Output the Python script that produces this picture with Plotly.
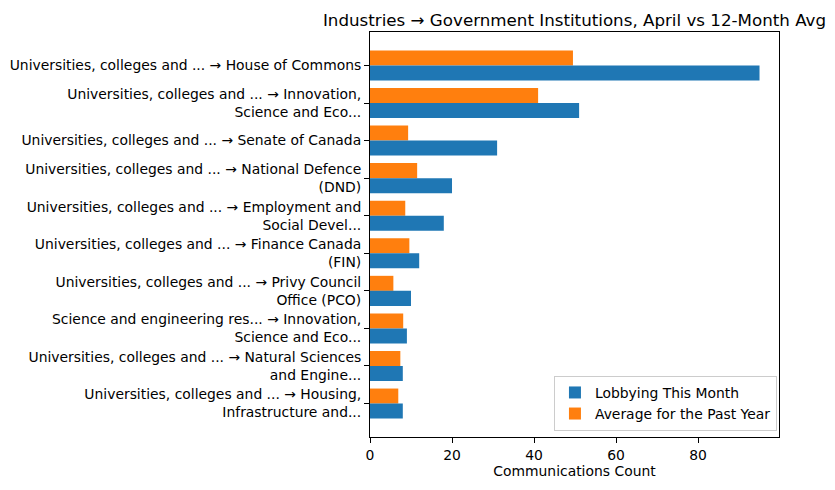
import plotly.graph_objects as go

# pairs shown top to bottom
pairs = [
    "Universities, colleges and ... → House of Commons",
    "Universities, colleges and ... → Innovation,<br>Science and Eco...",
    "Universities, colleges and ... → Senate of Canada",
    "Universities, colleges and ... → National Defence<br>(DND)",
    "Universities, colleges and ... → Employment and<br>Social Devel...",
    "Universities, colleges and ... → Finance Canada<br>(FIN)",
    "Universities, colleges and ... → Privy Council<br>Office (PCO)",
    "Science and engineering res... → Innovation,<br>Science and Eco...",
    "Universities, colleges and ... → Natural Sciences<br>and Engine...",
    "Universities, colleges and ... → Housing,<br>Infrastructure and...",
]
this_month = [95, 51, 31, 20, 18, 12, 10, 9, 8, 8]
past_year_avg = [49.5, 41.0, 9.3, 11.5, 8.6, 9.6, 5.7, 8.1, 7.4, 6.9]
x_ticks = [0, 20, 40, 60, 80]

BLUE = "#1f77b4"
ORANGE = "#ff7f0e"
FONT = "DejaVu Sans"

fig = go.Figure()
# orange trace first so it sits above the blue bar within each group
fig.add_trace(go.Bar(
    y=pairs, x=past_year_avg, orientation="h", name="Average for the Past Year",
    marker=dict(color=ORANGE, line=dict(width=0)), legendrank=2,
))
fig.add_trace(go.Bar(
    y=pairs, x=this_month, orientation="h", name="Lobbying This Month",
    marker=dict(color=BLUE, line=dict(width=0)), legendrank=1,
))

n = len(pairs)
# page body adds an 8px offset, so the figure is 8px smaller each way
fig.update_layout(
    width=827, height=482,
    barmode="group", bargap=0.2, bargroupgap=0,
    plot_bgcolor="white", paper_bgcolor="white",
    font=dict(family=FONT, size=13.9, color="black"),
    margin=dict(l=362, r=56, t=24, b=53),
    title=dict(
        text="Industries → Government Institutions, April vs 12-Month Avg",
        xref="paper", x=0.5, xanchor="center",
        yref="container", y=0.975, yanchor="middle",
        font=dict(size=16.7, family=FONT, color="black"),
    ),
    xaxis=dict(
        range=[0, max(this_month) * 1.05], tickvals=x_ticks,
        showgrid=False, zeroline=False, automargin=False,
        showline=True, mirror=True, linecolor="black", linewidth=1,
        ticks="outside", ticklen=5, tickcolor="black",
        title=dict(text="Communications Count", standoff=4, font=dict(size=13.9)),
    ),
    yaxis=dict(
        type="category", range=[n - 1 + 0.89, -0.89],
        showgrid=False, zeroline=False, automargin=False,
        showline=True, mirror=True, linecolor="black", linewidth=1,
        ticks="outside", ticklen=5, tickcolor="black",
    ),
    legend=dict(
        x=0.995, xanchor="right", y=0.015, yanchor="bottom",
        bgcolor="rgba(255,255,255,0.8)", bordercolor="#cccccc", borderwidth=1,
        font=dict(size=13.9),
    ),
)

fig.write_html("out.html")
